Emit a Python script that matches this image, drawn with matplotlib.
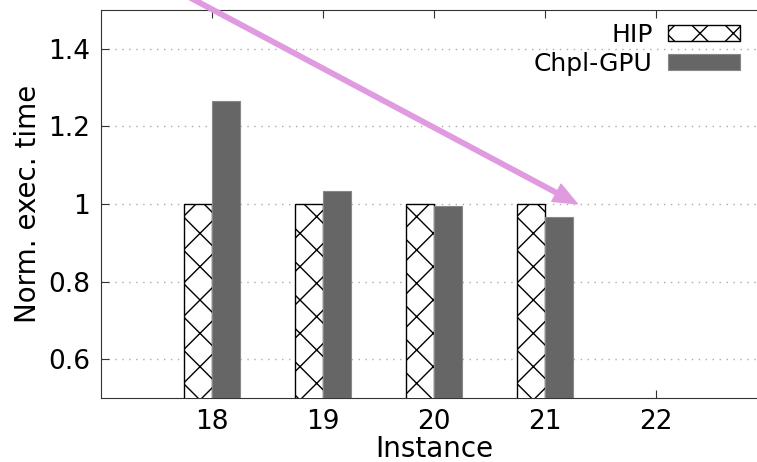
#-----------------------------------------------
# Normalised execution time, HIP vs Chpl-GPU
#-----------------------------------------------
import numpy as np
import matplotlib.pyplot as plt

#-----------------------------------------------
# data
#-----------------------------------------------
instances = [18, 19, 20, 21]
hip = [1.0, 1.0, 1.0, 1.0]
chpl_gpu = [1.265, 1.032, 0.995, 0.966]

plt.rcParams['font.family'] = 'DejaVu Sans'
plt.rcParams['hatch.linewidth'] = 1.0

fig = plt.figure(figsize=(7.57, 4.62), dpi=100)
ax = fig.add_axes([0.1334, 0.1385, 0.88, 0.8405])

x = np.array(instances)
w = 0.25
ax.bar(x - w / 2, hip, width=w, bottom=0, color='white', edgecolor='black',
       hatch='x', linewidth=1.0, label='HIP', zorder=3)
ax.bar(x + w / 2, chpl_gpu, width=w, bottom=0, color='#666666', edgecolor='#888888',
       linewidth=0.8, label='Chpl-GPU', zorder=3)

#-----------------------------------------------
# axes
#-----------------------------------------------
ax.set_xlim(17, 23)
ax.set_ylim(0.5, 1.5)
ax.set_xticks([18, 19, 20, 21, 22])
ax.set_yticks([0.6, 0.8, 1.0, 1.2, 1.4])
ax.set_yticklabels(['0.6', '0.8', '1', '1.2', '1.4'])
ax.tick_params(direction='in', top=True, right=False, length=6, labelsize=19,
               color='#333333', pad=8)
ax.yaxis.grid(True, linestyle=(0, (1, 4)), color='#aaaaaa', linewidth=1.0, zorder=0)
for s in ['left', 'bottom', 'top']:
    ax.spines[s].set_color('#333333')
ax.spines['right'].set_visible(False)
ax.set_xlabel('Instance', fontsize=20, labelpad=0)
ax.set_ylabel('Norm. exec. time', fontsize=20, labelpad=4)

#-----------------------------------------------
# legend (gnuplot style: text left of the sample)
#-----------------------------------------------
ax.legend(loc='upper right', bbox_to_anchor=(0.982, 1.005), frameon=False, fontsize=18,
          markerfirst=False, handlelength=2.9, handleheight=0.6,
          labelspacing=0.2, borderaxespad=0.2, handletextpad=0.6)

#-----------------------------------------------
# arrow
#-----------------------------------------------
ax.annotate('', xy=(21.29, 1.0), xytext=(17.35, 1.6),
            arrowprops=dict(width=3.2, headwidth=14, headlength=17,
                            color='#e09be0', shrink=0),
            annotation_clip=False, zorder=5)

fig.savefig('out.png', dpi=100)
